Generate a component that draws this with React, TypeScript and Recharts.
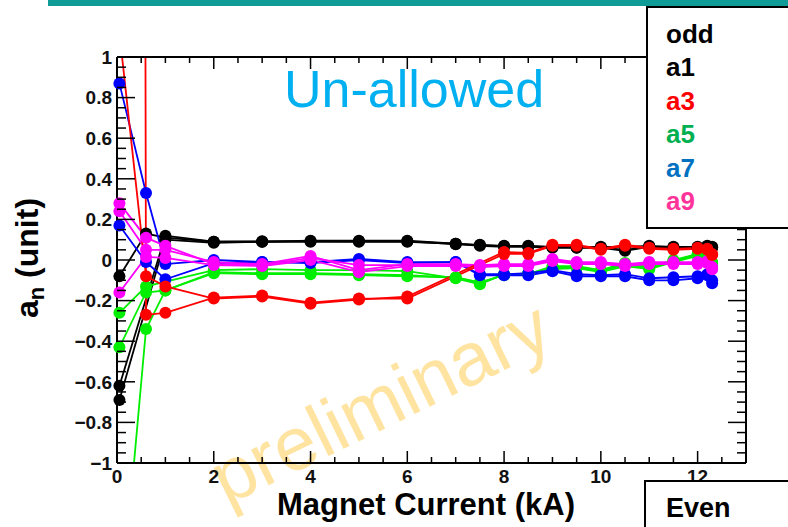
import React from 'react';
import { LineChart, Line, XAxis, YAxis } from 'recharts';

// Magnet current (kA) sample points
const X_KA = [0.05, 0.6, 1, 2, 3, 4, 5, 6, 7, 7.5, 8, 8.5, 9, 9.5, 10, 10.5, 11, 11.5, 12, 12.2, 12.3];

// a1 (black)
const A1_RUN1 = [-0.62, null, 0.12, 0.09, 0.09, 0.095, 0.095, 0.095, 0.08, 0.075, 0.07, 0.07, 0.065, 0.065, 0.065, 0.065, 0.07, 0.065, 0.065, 0.07, 0.06];
const A1_RUN2 = [-0.69, null, 0.1, 0.085, 0.09, 0.09, 0.09, 0.09, 0.08, 0.07, 0.065, 0.065, 0.06, 0.06, 0.06, 0.045, 0.065, 0.06, 0.06, 0.065, 0.065];
const A1_RUN3 = [-0.08, 0.13, 0.11, 0.09, 0.092, 0.093, 0.092, 0.092, 0.078, 0.073, 0.068, 0.068, 0.063, 0.062, 0.062, 0.05, 0.066, 0.062, 0.062, 0.068, 0.062];
// a3 (red)
const A3_RUN1 = [1.12, -0.08, -0.13, -0.19, -0.18, -0.215, -0.195, -0.18, null, null, 0.04, 0.035, 0.075, 0.075, 0.055, 0.075, 0.06, 0.055, 0.06, 0.055, 0.025];
const A3_RUN2 = [60, -0.27, -0.26, -0.185, -0.175, -0.21, -0.19, -0.19, null, null, 0.03, 0.03, 0.07, 0.07, 0.05, 0.07, 0.055, 0.05, 0.055, 0.05, 0.03];
// a5 (green)
const A5_RUN1 = [-0.26, -0.13, null, -0.05, -0.045, -0.05, -0.05, -0.055, -0.09, -0.12, -0.07, -0.07, -0.03, -0.03, -0.05, -0.015, -0.035, 0.0, 0.03, 0.01, -0.01];
const A5_RUN2 = [-0.43, -0.16, -0.15, -0.065, -0.07, -0.07, -0.075, -0.08, -0.085, -0.11, -0.075, -0.065, -0.045, -0.04, -0.06, -0.03, -0.045, -0.01, 0.02, 0.0, -0.02];
const A5_RUN3 = [-1.8, -0.34, -0.15, -0.06, -0.065, -0.065, -0.07, -0.075, -0.088, -0.115, -0.072, -0.068, -0.04, -0.035, -0.055, -0.022, -0.04, -0.005, 0.025, 0.005, -0.015];
// a7 (blue)
const A7_RUN1 = [0.87, 0.33, -0.02, 0.0, -0.01, -0.015, 0.0, -0.015, -0.01, -0.075, -0.075, -0.075, -0.055, -0.08, -0.08, -0.08, -0.1, -0.1, -0.09, -0.075, -0.115];
const A7_RUN2 = [0.17, -0.01, -0.095, -0.015, -0.01, -0.01, 0.005, -0.01, -0.01, -0.07, -0.07, -0.065, -0.05, -0.07, -0.075, -0.07, -0.09, -0.085, -0.08, -0.07, -0.1];
// a9 (magenta)
const A9_RUN1 = [0.28, 0.11, 0.07, -0.02, -0.025, 0.01, -0.025, -0.025, -0.025, -0.03, -0.025, -0.025, 0.0, -0.015, -0.015, -0.025, -0.015, -0.015, -0.015, -0.01, -0.04];
const A9_RUN2 = [0.24, 0.05, 0.05, -0.01, -0.02, 0.02, -0.05, -0.02, -0.02, -0.025, -0.02, -0.02, 0.005, -0.01, -0.01, -0.02, -0.01, -0.01, -0.01, -0.005, -0.035];
const A9_RUN3 = [-0.16, 0.015, 0.01, -0.025, -0.03, 0.0, -0.06, -0.03, -0.03, -0.035, -0.03, -0.03, -0.005, -0.02, -0.02, -0.03, -0.02, -0.02, -0.02, -0.015, -0.045];

const SERIES = [
  { key: 'a1_1', color: '#000000', values: A1_RUN1 },
  { key: 'a1_2', color: '#000000', values: A1_RUN2 },
  { key: 'a1_3', color: '#000000', values: A1_RUN3 },
  { key: 'a5_1', color: '#00ee00', values: A5_RUN1 },
  { key: 'a5_2', color: '#00ee00', values: A5_RUN2 },
  { key: 'a5_3', color: '#00ee00', values: A5_RUN3 },
  { key: 'a7_1', color: '#0000ff', values: A7_RUN1 },
  { key: 'a7_2', color: '#0000ff', values: A7_RUN2 },
  { key: 'a9_1', color: '#ff00ff', values: A9_RUN1 },
  { key: 'a9_2', color: '#ff00ff', values: A9_RUN2 },
  { key: 'a9_3', color: '#ff00ff', values: A9_RUN3 },
  { key: 'a3_1', color: '#ff0000', values: A3_RUN1 },
  { key: 'a3_2', color: '#ff0000', values: A3_RUN2 },
];

const LEGEND_ITEMS = ['odd', 'a1', 'a3', 'a5', 'a7', 'a9'];
const LEGEND_COLORS = ['#000000', '#000000', '#ff0000', '#00b050', '#0070c0', '#ff3399'];

const X_TICKS = Array.from({ length: 27 }, (_, i) => i * 0.5);
const Y_TICKS = Array.from({ length: 41 }, (_, i) => Math.round((-1 + i * 0.05) * 100) / 100);

const Y_MIN = -1;
const Y_MAX = 1;

// Table for the library: the full value (for the clipped lines) and the
// in-range value (for the unclipped markers).
const data = X_KA.map((x, i) => {
  const row: any = { x };
  SERIES.forEach((s) => {
    const v = s.values[i];
    row[s.key] = v;
    row[s.key + '_pt'] = v != null && v >= Y_MIN && v <= Y_MAX ? v : null;
  });
  return row;
});

const FONT = 'Liberation Sans, Arial, sans-serif';
const isMultiple = (v: number, step: number) => Math.abs(v / step - Math.round(v / step)) < 1e-6;
const fmtY = (v: number) => (v < 0 ? '\u2212' + Math.abs(v) : String(v));

const BottomTick = (props: any) => {
  const { x, y, payload } = props;
  const v = payload.value;
  const major = isMultiple(v, 2);
  return (
    <g>
      <line x1={x} y1={y} x2={x} y2={y - (major ? 12 : 6)} stroke="#000" strokeWidth={1.5} />
      {major && (
        <text x={x} y={y + 20} textAnchor="middle" fontFamily={FONT} fontWeight="bold" fontSize={19} fill="#111">
          {v}
        </text>
      )}
    </g>
  );
};

const TopTick = (props: any) => {
  const { x, y, payload } = props;
  const major = isMultiple(payload.value, 2);
  return <line x1={x} y1={y} x2={x} y2={y + (major ? 12 : 6)} stroke="#000" strokeWidth={1.5} />;
};

const LeftTick = (props: any) => {
  const { x, y, payload } = props;
  const v = payload.value;
  const major = isMultiple(v, 0.2);
  return (
    <g>
      <line x1={x} y1={y} x2={x + (major ? 18 : 9)} y2={y} stroke="#000" strokeWidth={1.5} />
      {major && (
        <text x={x - 5} y={y} dy="0.36em" textAnchor="end" fontFamily={FONT} fontWeight="bold" fontSize={19} fill="#111">
          {fmtY(v)}
        </text>
      )}
    </g>
  );
};

const RightTick = (props: any) => {
  const { x, y, payload } = props;
  const major = isMultiple(payload.value, 0.2);
  return <line x1={x} y1={y} x2={x - (major ? 18 : 9)} y2={y} stroke="#000" strokeWidth={1.5} />;
};

export default function App() {
  const lines: any[] = [];
  SERIES.forEach((s) => {
    lines.push(
      <Line
        key={s.key}
        xAxisId="bottom"
        yAxisId="left"
        dataKey={s.key}
        type="linear"
        stroke={s.color}
        strokeWidth={1.8}
        connectNulls
        dot={false}
        activeDot={false}
        legendType="none"
        isAnimationActive={false}
      />
    );
    lines.push(
      <Line
        key={s.key + '_pt'}
        xAxisId="bottom"
        yAxisId="left"
        dataKey={s.key + '_pt'}
        type="linear"
        stroke="none"
        strokeWidth={0}
        dot={{ r: 6, fill: s.color, stroke: 'none', strokeWidth: 0, clipDot: false }}
        activeDot={false}
        legendType="none"
        isAnimationActive={false}
      />
    );
  });

  return (
    <div style={{ position: 'fixed', left: 0, top: 0, width: 788, height: 527, background: '#fff', overflow: 'hidden' }}>
      <svg width={788} height={527} style={{ position: 'absolute', left: 0, top: 0 }}>
        <text
          x={380}
          y={402}
          textAnchor="middle"
          dominantBaseline="central"
          transform="rotate(-26 380 402)"
          fontFamily={FONT}
          fontSize={75}
          fill="#ffe3a1"
        >
          preliminary
        </text>
      </svg>
      <div style={{ position: 'absolute', left: 0, top: 0 }}>
        <LineChart width={788} height={527} data={data} margin={{ top: 27, right: 12, bottom: 34, left: 57 }}>
          <XAxis
            xAxisId="bottom"
            dataKey="x"
            type="number"
            domain={[0, 13]}
            allowDataOverflow
            ticks={X_TICKS}
            interval={0}
            height={30}
            tickSize={0}
            tickMargin={0}
            tickLine={false}
            axisLine={{ stroke: '#000', strokeWidth: 2 }}
            tick={BottomTick}
          />
          <XAxis
            xAxisId="top"
            orientation="top"
            dataKey="x"
            type="number"
            domain={[0, 13]}
            allowDataOverflow
            ticks={X_TICKS}
            interval={0}
            height={30}
            tickSize={0}
            tickMargin={0}
            tickLine={false}
            axisLine={{ stroke: '#000', strokeWidth: 2 }}
            tick={TopTick}
          />
          <YAxis
            yAxisId="left"
            type="number"
            domain={[Y_MIN, Y_MAX]}
            allowDataOverflow
            ticks={Y_TICKS}
            interval={0}
            width={60}
            tickSize={0}
            tickMargin={0}
            tickLine={false}
            axisLine={{ stroke: '#000', strokeWidth: 2 }}
            tick={LeftTick}
          />
          <YAxis
            yAxisId="right"
            orientation="right"
            type="number"
            domain={[Y_MIN, Y_MAX]}
            allowDataOverflow
            ticks={Y_TICKS}
            interval={0}
            width={30}
            tickSize={0}
            tickMargin={0}
            tickLine={false}
            axisLine={{ stroke: '#000', strokeWidth: 2 }}
            tick={RightTick}
          />
          {lines}
        </LineChart>
      </div>
      <svg width={788} height={527} style={{ position: 'absolute', left: 0, top: 0, pointerEvents: 'none' }}>
        <rect x={48} y={0} width={740} height={6} fill="#0f9b97" />
        <text x={414} y={107} textAnchor="middle" fontFamily={FONT} fontSize={52} fill="#00b0f0">
          Un-allowed
        </text>
        <text x={426} y={515} textAnchor="middle" fontFamily={FONT} fontWeight="bold" fontSize={31} fill="#000">
          Magnet Current (kA)
        </text>
        <text x={38} y={258} textAnchor="middle" transform="rotate(-90 38 258)" fontFamily={FONT} fontWeight="bold" fontSize={32} fill="#000">
          a<tspan fontSize={22} dy={6}>n</tspan>
          <tspan dy={-6}> (unit)</tspan>
        </text>
        <rect x={647} y={7} width={160} height={221} fill="#fff" stroke="#000" strokeWidth={2} />
        {LEGEND_ITEMS.map((t, i) => (
          <text key={t} x={666} y={43 + i * 33.4} fontFamily={FONT} fontWeight="bold" fontSize={26} fill={LEGEND_COLORS[i]}>
            {t}
          </text>
        ))}
        <rect x={645} y={481} width={160} height={60} fill="#fff" stroke="#000" strokeWidth={2} />
        <text x={666} y={517} fontFamily={FONT} fontWeight="bold" fontSize={27} fill="#000">
          Even
        </text>
      </svg>
    </div>
  );
}
